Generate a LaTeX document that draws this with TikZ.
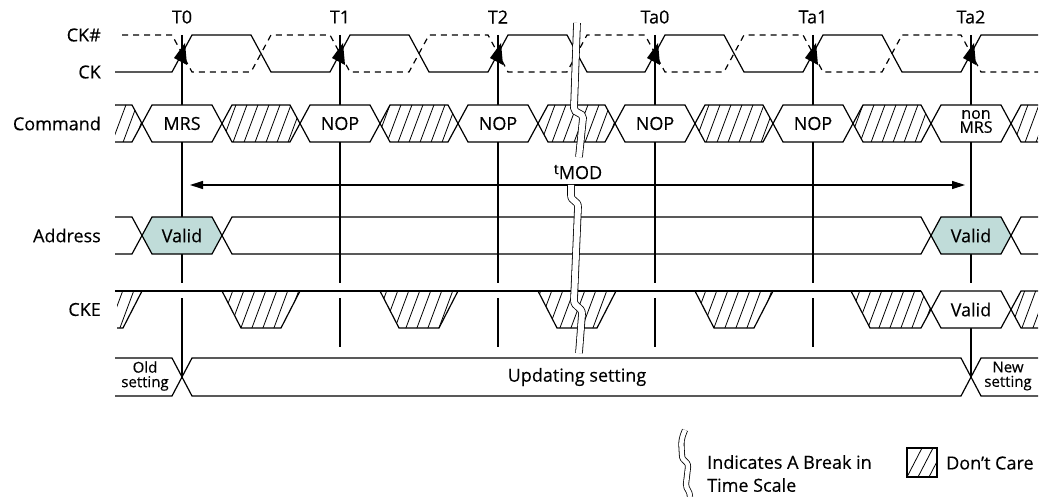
\documentclass[tikz,border=0pt]{standalone}
\usepackage{fontspec}
\setmainfont{Open Sans}[FakeBold=0.3]
\usetikzlibrary{arrows.meta}
\definecolor{validfill}{HTML}{C0DCD9}
\tikzset{
  sig/.style={line width=1.2pt, line join=miter},
  ckn/.style={sig, dash pattern=on 6pt off 5pt},
  hatchline/.style={line width=0.8pt},
  brk/.style={line width=0.8pt, double=white, double distance=6pt},
  lbl/.style={font=\fontsize{18}{20}\selectfont, inner sep=0pt},
  sml/.style={font=\fontsize{15}{14.5}\selectfont, align=center, inner sep=0pt},
  tip/.style={fill=black},
  dim/.style={sig, {Triangle[length=13pt,width=8pt]}-{Triangle[length=13pt,width=8pt]}},
}
\newcommand{\hatchall}{\foreach \hx in {0,11,...,1250} {\draw[hatchline] (\hx,0) -- ++(-185,497);}}
\newcommand{\busvalid}[5]{%
  \draw[sig,#5] (#1,{(#3+#4)/2}) -- ({#1+10},#3) -- ({#2-10},#3) -- (#2,{(#3+#4)/2}) -- ({#2-10},#4) -- ({#1+10},#4) -- cycle;}
\newcommand{\bushatch}[4]{%
  \begin{scope}
  \clip (#1,{(#3+#4)/2}) -- ({#1+10},#3) -- ({#2-10},#3) -- (#2,{(#3+#4)/2}) -- ({#2-10},#4) -- ({#1+10},#4) -- cycle;
  \hatchall
  \end{scope}
  \busvalid{#1}{#2}{#3}{#4}{}}
\begin{document}
\begin{tikzpicture}[x=1pt,y=-1pt]
\useasboundingbox[fill=white] (0,0) rectangle (1052,497);

% clock edge reference lines
\foreach \e in {182,340,498,655,813,971} \draw[sig] (\e,35) -- (\e,283);
\foreach \e in {340,498,655,813} \draw[sig] (\e,298) -- (\e,347);
\foreach \e in {182,971} \draw[sig] (\e,298) -- (\e,377);

% CK and CK#
\draw[sig] (115,72) -- (172,72) -- (192,35) -- (251,35) -- (271,72) -- (330,72) -- (350,35) -- (409,35) -- (429,72) -- (488,72) -- (508,35) -- (567,35) -- (587,72) -- (645,72) -- (665,35) -- (724,35) -- (744,72) -- (803,72) -- (823,35) -- (882,35) -- (902,72) -- (961,72) -- (981,35) -- (1038,35);
\draw[ckn] (122,35) -- (172,35) -- (192,72) -- (251,72) -- (271,35) -- (330,35) -- (350,72) -- (409,72) -- (429,35) -- (488,35) -- (508,72) -- (567,72) -- (587,35) -- (645,35) -- (665,72) -- (724,72) -- (744,35) -- (803,35) -- (823,72) -- (882,72) -- (902,35) -- (961,35) -- (981,72) -- (1038,72);
\foreach \e in {182,340,498,655,813,971}
  \fill[tip] ({\e+3},43) -- ({\e-8},58) -- ({\e+5},65) -- cycle;

% Command
\begin{scope}\clip (115,105) -- (132,105) -- (142,123.5) -- (132,142) -- (115,142) -- cycle; \hatchall \end{scope}
\draw[sig] (115,105) -- (132,105) -- (142,123.5) -- (132,142) -- (115,142);
\busvalid{142}{222}{105}{142}{fill=white}
\bushatch{222}{300}{105}{142}
\busvalid{300}{380}{105}{142}{fill=white}
\bushatch{380}{458}{105}{142}
\busvalid{458}{538}{105}{142}{fill=white}
\bushatch{538}{615}{105}{142}
\busvalid{615}{695}{105}{142}{fill=white}
\bushatch{695}{773}{105}{142}
\busvalid{773}{853}{105}{142}{fill=white}
\bushatch{853}{931}{105}{142}
\busvalid{931}{1011}{105}{142}{fill=white}
\begin{scope}\clip (1038,105) -- (1021,105) -- (1011,123.5) -- (1021,142) -- (1038,142) -- cycle; \hatchall \end{scope}
\draw[sig] (1038,105) -- (1021,105) -- (1011,123.5) -- (1021,142) -- (1038,142);

% tMOD
\coordinate (tmodL) at (190,185);
\coordinate (tmodR) at (965,185);
\draw[dim] (tmodL) -- (tmodR);

% Address
\draw[sig] (115,217) -- (132,217) -- (142,235.5) -- (132,254) -- (115,254);
\busvalid{142}{222}{217}{254}{fill=validfill}
\busvalid{222}{931}{217}{254}{}
\busvalid{931}{1011}{217}{254}{fill=validfill}
\draw[sig] (1038,217) -- (1021,217) -- (1011,235.5) -- (1021,254) -- (1038,254);

% CKE
\draw[sig] (115,291) -- (921,291);
\begin{scope}\clip (117,291) -- (142,291) -- (123,328) -- (117,328) -- cycle; \hatchall \end{scope}
\draw[sig] (142,291) -- (123,328) -- (117,328);
\foreach \c in {261,419,577,734} {
  \begin{scope}\clip ({\c-39},291) -- ({\c+39},291) -- ({\c+20},328) -- ({\c-20},328) -- cycle; \hatchall \end{scope}
  \draw[sig] ({\c-39},291) -- ({\c-20},328) -- ({\c+20},328) -- ({\c+39},291);
}
\begin{scope}\clip (851,291) -- (921,291) -- (931,309.5) -- (921,328) -- (870,328) -- cycle; \hatchall \end{scope}
\draw[sig] (851,291) -- (870,328) -- (921,328) -- (931,309.5) -- (921,291);
\busvalid{931}{1011}{291}{328}{fill=white}
\begin{scope}\clip (1038,291) -- (1021,291) -- (1011,309.5) -- (1021,328) -- (1038,328) -- cycle; \hatchall \end{scope}
\draw[sig] (1038,291) -- (1021,291) -- (1011,309.5) -- (1021,328) -- (1038,328);

% Mode register setting
\draw[sig] (115,358) -- (172,358) -- (182,377) -- (172,396) -- (115,396);
\busvalid{182}{971}{358}{396}{fill=white}
\draw[sig] (1038,358) -- (981,358) -- (971,377) -- (981,396) -- (1038,396);

% time breaks
\draw[brk] (577,23) -- (574,108) .. controls (574,114) and (583,112) .. (583,118) -- (579,157);
\draw[brk] (571,185) -- (571,195) .. controls (571,202) and (578,200) .. (578,207) -- (574,300) .. controls (574,308) and (582,306) .. (582,314) -- (579,353);

% labels
\node[lbl] (lt0) at (182,17) {T0};
\node[lbl] (lt1) at (340,17) {T1};
\node[lbl] (lt2) at (498,17) {T2};
\node[lbl] (lta0) at (655,17) {Ta0};
\node[lbl] (lta1) at (813,17) {Ta1};
\node[lbl] (lta2) at (971,17) {Ta2};

\node[lbl, anchor=east] (nckb) at (101,35) {CK\#};
\node[lbl, anchor=east] (nck) at (101,72) {CK};
\node[lbl, anchor=east] (ncmd) at (101,123.5) {Command};
\node[lbl, anchor=east] (nadr) at (101,235.5) {Address};
\node[lbl, anchor=east] (ncke) at (101,309.5) {CKE};

\node[lbl] (c0) at (182,123.5) {MRS};
\node[lbl] (c1) at (340,123.5) {NOP};
\node[lbl] (c2) at (498,123.5) {NOP};
\node[lbl] (c3) at (655,123.5) {NOP};
\node[lbl] (c4) at (813,123.5) {NOP};
\node[sml, font=\fontsize{16}{14}\selectfont] (c5) at (976,121.5) {non\\MRS};

\node[lbl] (a0) at (182,235.5) {Valid};
\node[lbl] (a1) at (971,235.5) {Valid};
\node[lbl] (k1) at (971,309.5) {Valid};

\node[lbl] (tmod) at (578,172) {\raisebox{5pt}{\fontsize{14}{14}\selectfont t}MOD};

\node[sml] (sold) at (145,376) {Old\\setting};
\node[lbl] (supd) at (577,377) {Updating setting};
\node[sml] (snew) at (1008,376) {New\\setting};

% legend
\draw[line width=0.8pt, double=white, double distance=4.5pt] (685,430) .. controls (681,440) .. (682,455) .. controls (682,462) and (688,460) .. (688,467) -- (686,484) .. controls (686,490) and (690,490) .. (690,497);
\node[lbl, anchor=west] (brk1) at (707,462) {Indicates A Break in};
\node[lbl, anchor=west] (brk2) at (707,485) {Time Scale};
\begin{scope}\clip (907,448) rectangle (937,477);
  \foreach \hx in {922,933,944} \draw[hatchline] (\hx,448) -- ++(-15,29);
\end{scope}
\draw[sig] (907,448) rectangle (937,477);
\node[lbl, anchor=west] (dc) at (946,463) {Don’t Care};
\end{tikzpicture}
\end{document}
